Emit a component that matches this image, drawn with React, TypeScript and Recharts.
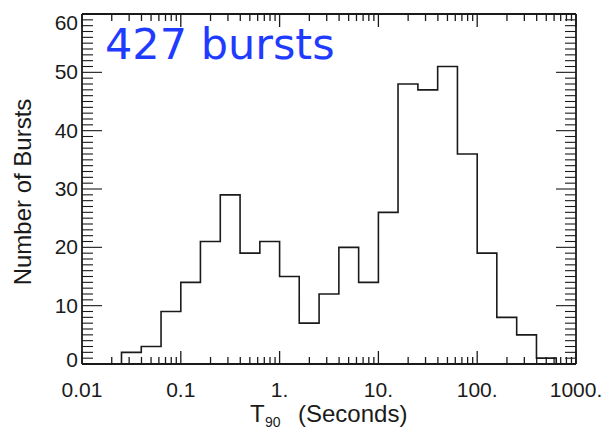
import React from 'react';
import { Line, LineChart, XAxis, YAxis } from 'recharts';

// T90 bin edges (seconds), 0.2 dex wide, and counts per bin
const binEdges = [
  0.0251, 0.0398, 0.0631, 0.1, 0.158, 0.251, 0.398, 0.631, 1, 1.58, 2.51, 3.98, 6.31, 10, 15.8, 25.1, 39.8,
  63.1, 100, 158, 251, 398, 631, 1000
];
const binCounts = [2, 3, 9, 14, 21, 29, 19, 21, 15, 7, 12, 20, 14, 26, 48, 47, 51, 36, 19, 8, 5, 1, 0];

const xMajorTicks = [0.01, 0.1, 1, 10, 100, 1000];
const xTickLabels = ['0.01', '0.1', '1.', '10.', '100.', '1000.'];
const xMinorSteps = [2, 3, 4, 5, 6, 7, 8, 9];
const yMajorTicks = [0, 10, 20, 30, 40, 50, 60];

const W = 608;
const H = 429;
const FONT = '"Liberation Sans", Arial, sans-serif';
const INK = '#1a1a1a';

const xMinorTicks = xMajorTicks.slice(0, -1).flatMap((d) => xMinorSteps.map((s) => +(d * s).toPrecision(3)));
const xAllTicks = [...xMajorTicks, ...xMinorTicks];
const yAllTicks = Array.from({ length: 61 }, (_, i) => i);

const data = [
  { t: binEdges[0], n: 0 },
  ...binCounts.map((c, i) => ({ t: binEdges[i], n: c })),
  { t: binEdges[binEdges.length - 1], n: 0 }
];

const XTick = ({ x, y, payload, top }: any) => {
  const idx = xMajorTicks.indexOf(payload.value);
  const major = idx >= 0;
  const len = major ? 13 : 7;
  const dir = top ? 1 : -1;
  return (
    <g>
      <line x1={x} x2={x} y1={y} y2={y + dir * len} stroke={INK} strokeWidth={1.3} />
      {major && !top && (
        <text x={x} y={y + 33} textAnchor="middle" fontSize={21} fontFamily={FONT} fill={INK}>
          {xTickLabels[idx]}
        </text>
      )}
    </g>
  );
};

const YTick = ({ x, y, payload, right }: any) => {
  const major = yMajorTicks.includes(payload.value);
  const len = major ? 20 : 11;
  const dir = right ? -1 : 1;
  const nudge = payload.value === 60 ? 9 : payload.value === 0 ? -4 : 0;
  return (
    <g>
      <line x1={x} x2={x + dir * len} y1={y} y2={y} stroke={INK} strokeWidth={1.1} />
      {major && !right && (
        <text x={x - 4} y={y + nudge + 7} textAnchor="end" fontSize={21} fontFamily={FONT} fill={INK}>
          {payload.value}
        </text>
      )}
    </g>
  );
};

export default function App() {
  return (
    <div style={{ position: 'absolute', left: 0, top: 0, width: W, height: H, background: '#fff' }}>
      <LineChart width={W} height={H} data={data} margin={{ top: 0, right: 0, bottom: 0, left: 0 }}>
        <XAxis
          dataKey="t"
          type="number"
          scale="log"
          domain={[0.01, 1000]}
          allowDataOverflow
          ticks={xAllTicks}
          interval={0}
          tickLine={false}
          tickSize={0}
          tickMargin={0}
          height={65}
          axisLine={{ stroke: INK, strokeWidth: 1.8 }}
          tick={<XTick />}
        />
        <XAxis
          xAxisId="top"
          orientation="top"
          dataKey="t"
          type="number"
          scale="log"
          domain={[0.01, 1000]}
          allowDataOverflow
          ticks={xAllTicks}
          interval={0}
          tickLine={false}
          tickSize={0}
          tickMargin={0}
          height={14}
          axisLine={{ stroke: INK, strokeWidth: 1.8 }}
          tick={<XTick top />}
        />
        <YAxis
          type="number"
          domain={[0, 60]}
          allowDataOverflow
          ticks={yAllTicks}
          interval={0}
          tickLine={false}
          tickSize={0}
          tickMargin={0}
          width={82}
          axisLine={{ stroke: INK, strokeWidth: 1.8 }}
          tick={<YTick />}
        />
        <YAxis
          yAxisId="r"
          orientation="right"
          type="number"
          domain={[0, 60]}
          allowDataOverflow
          ticks={yAllTicks}
          interval={0}
          tickLine={false}
          tickSize={0}
          tickMargin={0}
          width={32}
          axisLine={{ stroke: INK, strokeWidth: 1.8 }}
          tick={<YTick right />}
        />
        <Line
          dataKey="n"
          type="stepAfter"
          stroke={INK}
          strokeWidth={1.6}
          dot={false}
          isAnimationActive={false}
        />
      </LineChart>
      <svg width={W} height={H} style={{ position: 'absolute', left: 0, top: 0, pointerEvents: 'none' }}>
        <text x={105} y={59} fontSize={43} fontFamily='"DejaVu Sans", sans-serif' fill="#1f3bff">
          427 bursts
        </text>
        <text
          x={31}
          y={192}
          transform="rotate(-90, 31, 192)"
          textAnchor="middle"
          fontSize={24}
          fontFamily={FONT}
          fill={INK}
        >
          Number of Bursts
        </text>
        <text x={250} y={422} fontSize={24} fontFamily={FONT} fill={INK}>
          T
        </text>
        <text x={265} y={427} fontSize={14} fontFamily={FONT} fill={INK}>
          90
        </text>
        <text x={298} y={422} fontSize={24} fontFamily={FONT} fill={INK}>
          (Seconds)
        </text>
      </svg>
    </div>
  );
}
